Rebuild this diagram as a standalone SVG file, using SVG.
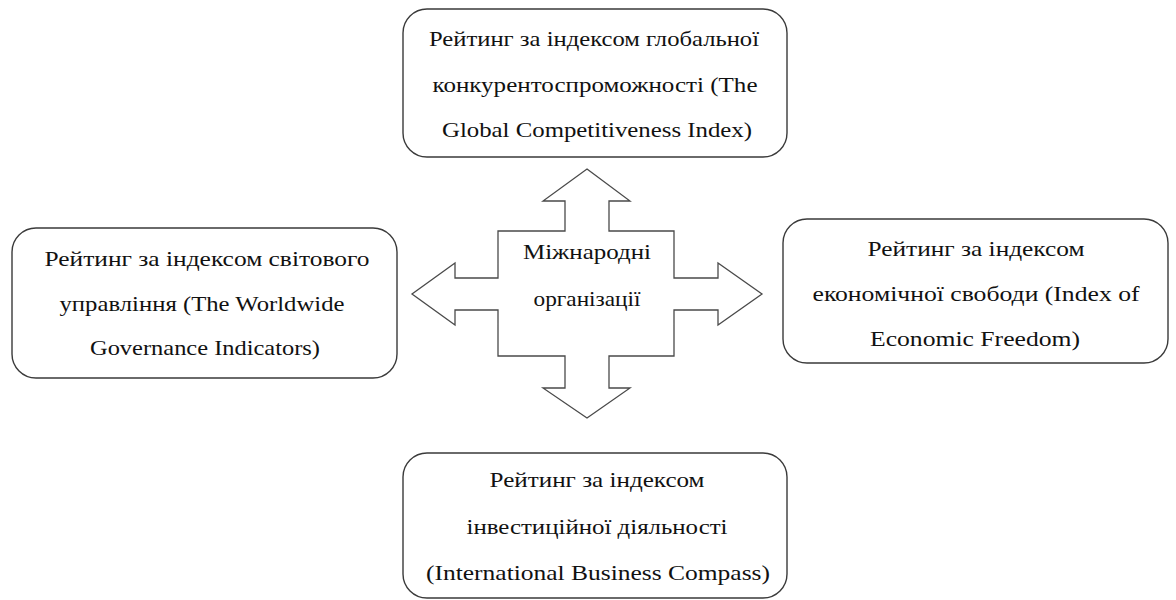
<svg xmlns="http://www.w3.org/2000/svg" width="1176" height="600" viewBox="0 0 1176 600">
<style>
.box{fill:#fff;stroke:#3a3a3a;stroke-width:1.4}
.arr{fill:#fff;stroke:#4a4a4a;stroke-width:1.3;stroke-linejoin:miter}
.t{font-family:'Liberation Serif','Times New Roman',serif;font-size:21px;fill:#111;text-anchor:middle}
</style>
<rect width="1176" height="600" fill="#fff"/>
<g id="connectors">
<polygon class="arr" points="587,169 630,201 609,201 609,231 674,231 674,278 718,278 718,263 762,294 718,325 718,310 674,310 674,356 609,356 609,388 630,388 587,418 543,388 565,388 565,356 498,356 498,310 455,310 455,325 412,294 455,263 455,278 498,278 498,231 565,231 565,201 543,201"/>
</g>
<g id="center" class="t">
<text x="587" y="259" textLength="128" lengthAdjust="spacingAndGlyphs">Міжнародні</text>
<text x="587" y="306" textLength="107" lengthAdjust="spacingAndGlyphs">організації</text>
</g>
<g id="top" class="t">
<rect class="box" x="403" y="9" width="384" height="148" rx="24"/>
<text x="594" y="46" textLength="330" lengthAdjust="spacingAndGlyphs">Рейтинг за індексом глобальної</text>
<text x="595" y="92" textLength="325" lengthAdjust="spacingAndGlyphs">конкурентоспроможності (The</text>
<text x="597" y="137" textLength="310" lengthAdjust="spacingAndGlyphs">Global Competitiveness Index)</text>
</g>
<g id="left" class="t">
<rect class="box" x="12" y="228" width="385" height="150" rx="24"/>
<text x="207" y="266" textLength="325" lengthAdjust="spacingAndGlyphs">Рейтинг за індексом світового</text>
<text x="202" y="311" textLength="285" lengthAdjust="spacingAndGlyphs">управління (The Worldwide</text>
<text x="205" y="355" textLength="230" lengthAdjust="spacingAndGlyphs">Governance Indicators)</text>
</g>
<g id="right" class="t">
<rect class="box" x="783" y="219" width="385" height="144" rx="24"/>
<text x="976" y="256" textLength="217" lengthAdjust="spacingAndGlyphs">Рейтинг за індексом</text>
<text x="976" y="301" textLength="327" lengthAdjust="spacingAndGlyphs">економічної свободи (Index of</text>
<text x="975" y="346" textLength="210" lengthAdjust="spacingAndGlyphs">Economic Freedom)</text>
</g>
<g id="bottom" class="t">
<rect class="box" x="403" y="453" width="384" height="145" rx="24"/>
<text x="597" y="487" textLength="215" lengthAdjust="spacingAndGlyphs">Рейтинг за індексом</text>
<text x="597" y="534" textLength="261" lengthAdjust="spacingAndGlyphs">інвестиційної діяльності</text>
<text x="598" y="580" textLength="344" lengthAdjust="spacingAndGlyphs">(International Business Compass)</text>
</g>
</svg>
